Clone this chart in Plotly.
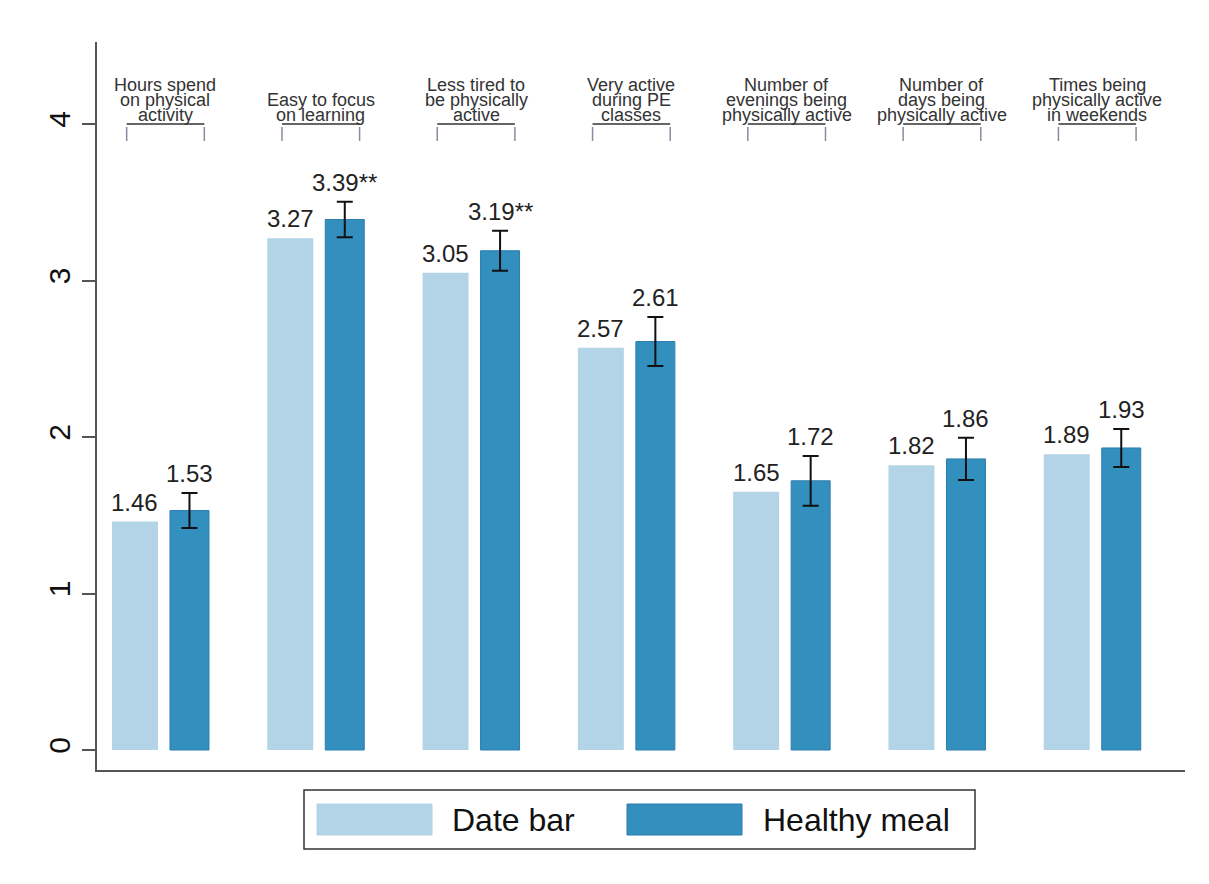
import plotly.graph_objects as go

# ---- data -------------------------------------------------------------
categories = [
    ["Hours spend", "on physical", "activity"],
    ["Easy to focus", "on learning"],
    ["Less tired to", "be physically", "active"],
    ["Very active", "during PE", "classes"],
    ["Number of", "evenings being", "physically active"],
    ["Number of", "days being", "physically active"],
    ["Times being", "physically active", "in weekends"],
]
date_bar = [1.46, 3.27, 3.05, 2.57, 1.65, 1.82, 1.89]
healthy_meal = [1.53, 3.39, 3.19, 2.61, 1.72, 1.86, 1.93]
healthy_ci = [0.112, 0.113, 0.128, 0.157, 0.159, 0.135, 0.121]
significance = ["", "**", "**", "", "", "", ""]
y_ticks = [0, 1, 2, 3, 4]

# ---- styling ----------------------------------------------------------
FONT = "Liberation Sans, Arial, sans-serif"
LIGHT = "#b2d4e6"
DARK = "#338fbd"
DARK_EDGE = "#2a7db0"
AXIS = "#555555"

W, H = 1209, 884
M_L, M_R, M_T, M_B = 97, 24, 42, 114
PW, PH = W - M_L - M_R, H - M_T - M_B

x_range = [-0.412, 6.594]
y_range = [-0.1278, 4.524]
px_per_x = PW / (x_range[1] - x_range[0])
px_per_y = PH / (y_range[1] - y_range[0])


def px_to_paper_x(px):
    return (px - M_L) / PW


def px_to_paper_y(py):
    return (H - M_B - py) / PH


x = list(range(len(date_bar)))
light_off, light_w = -0.3155, 0.296
dark_off, dark_w = 0.058, 0.251

fig = go.Figure()
fig.add_trace(go.Bar(
    x=x, y=date_bar, name="Date bar",
    offset=light_off, width=light_w,
    marker=dict(color=LIGHT, line=dict(color=LIGHT, width=0)),
    showlegend=False,
))
fig.add_trace(go.Bar(
    x=x, y=healthy_meal, name="Healthy meal",
    offset=dark_off, width=dark_w,
    marker=dict(color=DARK, line=dict(color=DARK_EDGE, width=1)),
    error_y=dict(type="data", array=healthy_ci, visible=True,
                 color="#111111", thickness=2, width=8),
    showlegend=False,
))

annotations = []
shapes = []

# value labels
for i, (a, b, e, s) in enumerate(zip(date_bar, healthy_meal, healthy_ci, significance)):
    annotations.append(dict(
        x=i + light_off + light_w / 2, y=a, xref="x", yref="y",
        text=f"{a:.2f}", showarrow=False, yanchor="bottom", yshift=4,
        font=dict(family=FONT, size=24, color="#222222"),
    ))
    annotations.append(dict(
        x=i + dark_off + dark_w / 2, y=b + e, xref="x", yref="y",
        text=f"{b:.2f}{s}", showarrow=False, yanchor="bottom", yshift=4,
        font=dict(family=FONT, size=24, color="#222222"),
    ))

# category headers drawn on a bracket at y = 4
br_l, br_r = -0.221, 0.279
for i, lines in enumerate(categories):
    cx = i + (br_l + br_r) / 2
    for k, line in enumerate(reversed(lines)):
        annotations.append(dict(
            x=cx, y=4, xref="x", yref="y", text=line, showarrow=False,
            yanchor="bottom", yshift=-3 + 15 * k,
            font=dict(family=FONT, size=18, color="#333333"),
        ))
    shapes.append(dict(type="line", xref="x", yref="y",
                       x0=i + br_l, x1=i + br_r, y0=4, y1=4,
                       line=dict(color="#333333", width=1.5)))
    for bx in (br_l, br_r):
        shapes.append(dict(type="line", xref="x", yref="y",
                           x0=i + bx, x1=i + bx,
                           y0=4 - 3 / px_per_y, y1=4 - 17 / px_per_y,
                           line=dict(color="#8a8aa0", width=1.5)))

# legend box
shapes.append(dict(type="rect", xref="paper", yref="paper",
                   x0=px_to_paper_x(304), x1=px_to_paper_x(975),
                   y0=px_to_paper_y(790), y1=px_to_paper_y(849),
                   line=dict(color="#333333", width=1.5), fillcolor="white"))
legend_items = [("Date bar", LIGHT, LIGHT, 317, 450),
                ("Healthy meal", DARK, DARK_EDGE, 627, 761)]
for label, fill, edge, sx, tx in legend_items:
    shapes.append(dict(type="rect", xref="paper", yref="paper",
                       x0=px_to_paper_x(sx), x1=px_to_paper_x(sx + 115),
                       y0=px_to_paper_y(804), y1=px_to_paper_y(835),
                       line=dict(color=edge, width=1), fillcolor=fill))
    annotations.append(dict(
        x=px_to_paper_x(tx), y=px_to_paper_y(820), xref="paper", yref="paper",
        text=label, showarrow=False, xanchor="left", yanchor="middle",
        font=dict(family=FONT, size=32, color="#111111"),
    ))

fig.update_layout(
    width=W, height=H,
    margin=dict(l=M_L, r=M_R, t=M_T, b=M_B),
    paper_bgcolor="white", plot_bgcolor="white",
    barmode="overlay",
    showlegend=False,
    annotations=annotations,
    shapes=shapes,
    xaxis=dict(range=x_range, showticklabels=False, ticks="",
               showgrid=False, zeroline=False,
               showline=True, linecolor=AXIS, linewidth=2),
    yaxis=dict(range=y_range, tickvals=y_ticks, ticktext=[str(t) for t in y_ticks],
               tickangle=-90, ticks="outside", ticklen=13, tickwidth=2,
               tickcolor=AXIS, showgrid=False, zeroline=False,
               showline=True, linecolor=AXIS, linewidth=2,
               tickfont=dict(family=FONT, size=30, color="#111111")),
)

fig.write_html("out.html")
